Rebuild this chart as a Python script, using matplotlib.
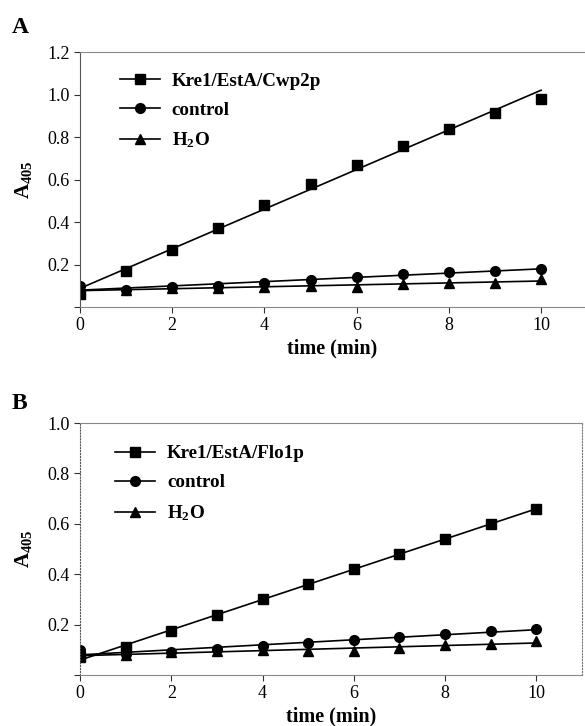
import matplotlib
matplotlib.use('Agg')
import matplotlib.pyplot as plt
import numpy as np

plt.rcParams['font.family'] = ['Liberation Serif', 'DejaVu Serif']
plt.rcParams['mathtext.fontset'] = 'custom'
plt.rcParams['mathtext.rm'] = 'Liberation Serif'
plt.rcParams['mathtext.bf'] = 'Liberation Serif:bold'

# time points (min)
t = np.arange(0, 11)

# panel A
a_label = 'Kre1/EstA/Cwp2p'
a_kre = [0.06, 0.17, 0.27, 0.37, 0.48, 0.58, 0.67, 0.76, 0.84, 0.915, 0.98]
a_ctrl = [0.10, 0.08, 0.095, 0.10, 0.115, 0.125, 0.14, 0.155, 0.165, 0.17, 0.18]
a_h2o = [0.08, 0.08, 0.09, 0.09, 0.095, 0.10, 0.095, 0.11, 0.113, 0.115, 0.13]
a_yticks = [0, 0.2, 0.4, 0.6, 0.8, 1.0, 1.2]

# panel B
b_label = 'Kre1/EstA/Flo1p'
b_kre = [0.07, 0.11, 0.175, 0.24, 0.30, 0.36, 0.42, 0.48, 0.54, 0.60, 0.66]
b_ctrl = [0.10, 0.085, 0.09, 0.105, 0.115, 0.127, 0.139, 0.15, 0.163, 0.174, 0.182]
b_h2o = [0.08, 0.08, 0.09, 0.095, 0.10, 0.096, 0.097, 0.107, 0.119, 0.123, 0.135]
b_yticks = [0, 0.2, 0.4, 0.6, 0.8, 1.0]

xticks = [0, 2, 4, 6, 8, 10]


def panel(ax, label, kre, ctrl, h2o, yticks, xmax, leg_x, leg_y, right_spine):
    series = [(kre, 's', label), (ctrl, 'o', 'control'), (h2o, '^', r'$\mathbf{H_2O}$')]
    for vals, mk, lab in series:
        k, b = np.polyfit(t, vals, 1)
        ax.plot(t, k * t + b, color='black', lw=1.2)
        ax.plot(t, vals, mk, color='black', ms=7, ls='none')
        ax.plot([], [], color='black', lw=1.2, marker=mk, ms=7, label=lab)
    ax.set_xlim(0, xmax)
    ax.set_ylim(yticks[0], yticks[-1])
    ax.set_xticks(xticks)
    ax.set_yticks(yticks)
    ax.set_yticklabels([''] + ['%.1f' % v for v in yticks[1:]])
    ax.tick_params(direction='out', length=4, width=0.8, labelsize=13, colors='#333333', labelcolor='black')
    for s in ['top', 'bottom']:
        ax.spines[s].set_color('#888888')
    ax.spines['left'].set_color('#555555')
    ax.spines['left'].set_linestyle(':' if right_spine else '-')
    if right_spine:
        ax.spines['right'].set_color('#777777')
        ax.spines['right'].set_linestyle(':')
    else:
        ax.spines['right'].set_visible(False)
    ax.set_xlabel('time (min)', fontsize=14.5, fontweight='bold', labelpad=3)
    ax.set_ylabel(r'$\mathbf{A}_{\mathbf{405}}$', fontsize=15, labelpad=9)
    ax.legend(loc='upper left', bbox_to_anchor=(leg_x, leg_y), frameon=False,
              borderaxespad=0, borderpad=0, handlelength=2.1, handletextpad=0.63,
              labelspacing=0.62, prop={'weight': 'bold', 'size': 13.7})


fig = plt.figure(figsize=(5.85, 7.26), dpi=100)
ax1 = fig.add_axes([0.1368, 0.5771, 0.863, 0.3512])
ax2 = fig.add_axes([0.1368, 0.0702, 0.858, 0.3471])

panel(ax1, a_label, a_kre, a_ctrl, a_h2o, a_yticks, 10.95, 0.079, 0.92, False)
panel(ax2, b_label, b_kre, b_ctrl, b_h2o, b_yticks, 11.0, 0.07, 0.913, True)

fig.text(0.02, 0.962, 'A', fontsize=17, fontweight='bold', va='center')
fig.text(0.02, 0.444, 'B', fontsize=17, fontweight='bold', va='center')

plt.savefig('out.png', dpi=100)
